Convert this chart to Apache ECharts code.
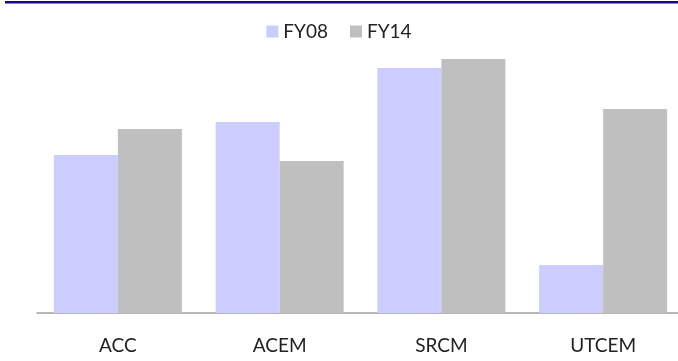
<!DOCTYPE html>
<html>
<head>
<meta charset="utf-8">
<script src="https://cdn.jsdelivr.net/npm/echarts@6/dist/echarts.min.js"></script>
<style>
  html, body { margin: 0; padding: 0; background: #fff; }
  #main { width: 678px; height: 361px; }
</style>
</head>
<body>
<div id="main"></div>
<script>
// categories and values (units unknown, roughly px of bar height)
const categories = ['ACC', 'ACEM', 'SRCM', 'UTCEM'];
const fy08 = [158, 191, 245, 48];
const fy14 = [184, 152, 254, 204];
const seriesNames = ['FY08', 'FY14'];

const fontFam = 'Lato, "Open Sans", sans-serif';

let myChart = echarts.init(document.getElementById('main'));
let option = {
  animation: false,
  color: ['#ccccff', '#bfbfbf'],
  graphic: [
    // navy rule across the top
    { type: 'rect', left: 5, top: 1, shape: { width: 673, height: 2.5 }, style: { fill: '#1c0a80' } }
  ],
  legend: {
    data: seriesNames,
    top: 17,
    left: 'center',
    itemWidth: 12,
    itemHeight: 12,
    itemGap: 22,
    icon: 'rect',
    textStyle: { fontFamily: fontFam, fontSize: 19, color: '#222' }
  },
  grid: {
    left: 37,
    width: 647,
    top: 13,
    bottom: 48,
    outerBoundsMode: 'none',
    containLabel: false
  },
  xAxis: {
    type: 'category',
    data: categories,
    axisTick: { show: false },
    axisLine: { lineStyle: { color: '#a0a0a0', width: 1.5 } },
    axisLabel: { margin: 23, fontFamily: fontFam, fontSize: 19, color: '#222' }
  },
  yAxis: {
    type: 'value',
    min: 0,
    max: 300,
    show: false,
    splitLine: { show: false }
  },
  series: [
    { name: seriesNames[0], type: 'bar', data: fy08, barWidth: 64, barGap: '0%' },
    { name: seriesNames[1], type: 'bar', data: fy14, barWidth: 64, barGap: '0%' }
  ]
};
myChart.setOption(option);
</script>
</body>
</html>
